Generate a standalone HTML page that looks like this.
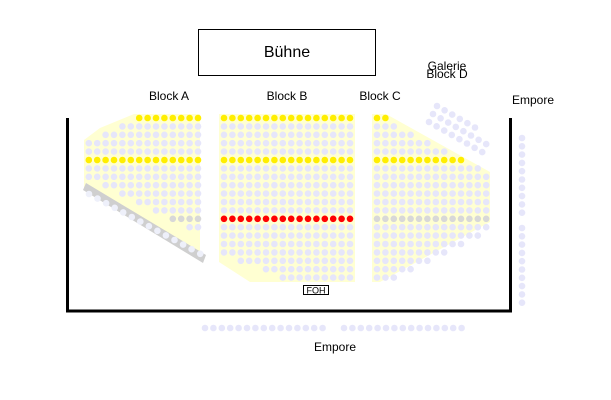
<!DOCTYPE html>
<html><head><meta charset="utf-8"><style>
html,body{margin:0;padding:0;background:#fff;width:611px;height:400px;overflow:hidden}
svg{display:block}
text{font-family:"Liberation Sans",sans-serif;font-size:12px;fill:#000}
</style></head><body>
<svg id="s" width="611" height="400" viewBox="0 0 611 400" xmlns="http://www.w3.org/2000/svg">
<rect x="198.5" y="29.5" width="177" height="46" fill="#fff" stroke="#000" stroke-width="1"/>
<text x="287" y="57" text-anchor="middle" style="font-size:16px">Bühne</text>
<text x="169" y="100" text-anchor="middle">Block A</text>
<text x="287" y="100" text-anchor="middle">Block B</text>
<text x="380" y="100" text-anchor="middle">Block C</text>
<text x="447" y="70" text-anchor="middle">Galerie</text>
<text x="447" y="78" text-anchor="middle">Block D</text>
<text x="533" y="104" text-anchor="middle">Empore</text>
<text x="335" y="351" text-anchor="middle">Empore</text>
<polygon points="134,114 200,114 200,258 84,190 84,140 100,128" fill="#ffffd2"/>
<polygon points="219,114 355,114 355,282 250,282 219,262" fill="#ffffd2"/>
<polygon points="372,114 386,114 490,172 490,222 380,282 372,282" fill="#ffffd2"/>
<polyline points="67.5,118 67.5,311 510.5,311 510.5,118" fill="none" stroke="#000" stroke-width="3"/>
<polygon points="83,190 86,183 206,255 203,263" fill="#cfcfcf"/>
<rect x="303.5" y="285.5" width="25" height="9" fill="#fff" stroke="#000" stroke-width="1"/>
<text x="316" y="293.5" text-anchor="middle" style="font-size:9px">FOH</text>
<g id="g"></g>
</svg>
<script>
var g=document.getElementById('g'),P=8.4,R=3.3,L='#e6e6fa',Y='#ffee00',RD='#f00',G='#d8d8d8',h='';
function c(x,y,f){h+='<circle cx="'+x.toFixed(1)+'" cy="'+y.toFixed(1)+'" r="'+R+'" fill="'+f+'"/>';}
function ry(k){return 118+P*k;}
var A=[8,10,12,14,14,14,14,14,12,10,8,6,4,2];
for(var k=0;k<A.length;k++)for(var j=0;j<A[k];j++){var f=L;if(k==0||k==5)f=Y;if(k==12)f=G;c(198-P*j,ry(k),f);}
for(var i=0;i<14;i++)c(89+i*8.55,194+i*4.6,'#eef0fa');
var Bs=[0,0,0,0,0,0,0,0,0,0,0,0,0,0,0,0,0,2,5,7];
for(var k=0;k<20;k++)for(var j=Bs[k];j<16;j++){var f=L;if(k==0||k==5)f=Y;if(k==12)f=RD;c(224+P*j,ry(k),f);}
var C=[2,3,5,7,9,11,13,14,14,14,14,14,14,14,13,11,9,7,5,3];
for(var k=0;k<C.length;k++)for(var j=0;j<C[k];j++){var f=L;if(k==0||k==5)f=Y;if(k==12)f=G;c(377+P*j,ry(k),f);}
var D=[[437,106,6],[433,114,8],[429,122,8]];
D.forEach(function(r){for(var i=0;i<r[2];i++)c(r[0]+i*7.6,r[1]+i*4.3,L);});
for(var i=0;i<10;i++){c(522,138+i*8.3,L);c(522,228+i*8.3,L);}
for(var i=0;i<15;i++){c(205+i*P,328,L);c(344+i*P,328,L);}
g.innerHTML=h;
</script>
</body></html>
